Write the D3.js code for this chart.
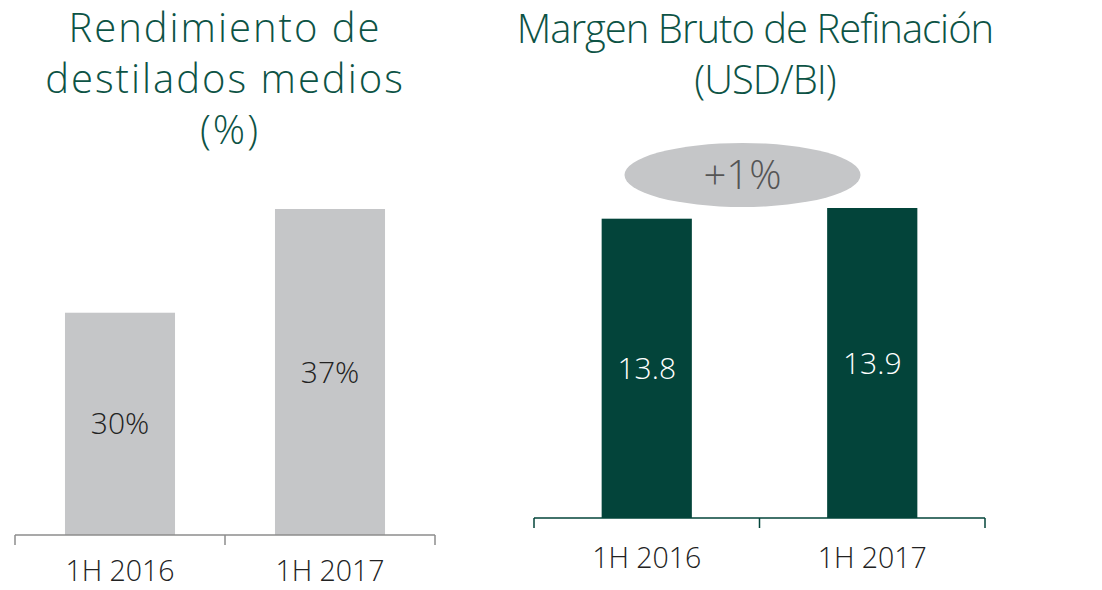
<!DOCTYPE html>
<html><head><meta charset="utf-8">
<script src="https://cdn.jsdelivr.net/npm/d3@7"></script>
<style>
html,body{margin:0;padding:0;background:#fff;}
svg{display:block;font-family:"Open Sans",sans-serif;font-weight:300;}
</style></head>
<body><svg id="c" width="1102" height="590"></svg>
<script>
const categories = ["1H 2016", "1H 2017"];
const yieldValues = [30, 37];
const yieldLabels = ["30%", "37%"];
const marginValues = [13.8, 13.9];
const marginLabels = ["13.8", "13.9"];
const leftTitle = ["Rendimiento de", "destilados medios", "(%)"];
const rightTitle = ["Margen Bruto de Refinación", "(USD/BI)"];
const changeLabel = "+1%";

const svg = d3.select("#c");
const green = "#0d5345";
const darkGreen = "#03443a";
const grey = "#c5c6c8";

function panel(o) {
  const g = svg.append("g");
  const x = d3.scaleBand().domain(categories).range(o.xr)
    .paddingInner(o.pi).paddingOuter(o.pi / 2);
  const y = d3.scaleLinear().domain(o.yd).range(o.yr);
  // title
  const t = g.append("text").attr("text-anchor", "middle")
    .attr("fill", green).attr("font-size", 40).attr("letter-spacing", o.ls);
  o.title.forEach((s, i) => t.append("tspan").attr("x", o.tx[i]).attr("y", o.ty + i * 51).text(s));
  // bars
  g.selectAll("rect.bar").data(o.values).join("rect")
    .attr("x", (d, i) => x(categories[i])).attr("width", x.bandwidth())
    .attr("y", d => y(d)).attr("height", d => o.yr[0] - y(d))
    .attr("fill", o.barColor);
  g.selectAll("text.val").data(o.values).join("text")
    .attr("x", (d, i) => x(categories[i]) + x.bandwidth() / 2)
    .attr("y", d => (y(d) + o.yr[0]) / 2)
    .attr("dy", "0.35em").attr("text-anchor", "middle")
    .attr("font-size", 30).attr("fill", o.valColor)
    .text((d, i) => o.labels[i]);
  // axis
  const base = o.yr[0];
  const step = x.step();
  const ticks = [o.xr[0]].concat(categories.map(c => x(c) + x.bandwidth() / 2 + step / 2));
  g.append("line").attr("x1", o.xr[0]).attr("x2", o.xr[1]).attr("y1", base).attr("y2", base)
    .attr("stroke", o.axisColor).attr("stroke-width", 1.5);
  g.selectAll("line.tk").data(ticks).join("line")
    .attr("x1", d => d).attr("x2", d => d).attr("y1", base).attr("y2", base + 10)
    .attr("stroke", o.axisColor).attr("stroke-width", 1.5);
  g.selectAll("text.cat").data(categories).join("text")
    .attr("x", d => x(d) + x.bandwidth() / 2).attr("y", o.labelY)
    .attr("text-anchor", "middle").attr("font-size", 28.5).attr("fill", "#222")
    .text(d => d);
  return {x, y};
}

panel({xr: [15, 435], pi: 0.476, yd: [15, 37], yr: [535, 209], values: yieldValues,
  labels: yieldLabels, barColor: grey, valColor: "#222", axisColor: "#8c8c8c",
  title: leftTitle, tx: [225, 225, 230], ty: 42, ls: 2, labelY: 581});

const r = panel({xr: [534, 985], pi: 0.6, yd: [11, 13.9], yr: [518, 208], values: marginValues,
  labels: marginLabels, barColor: darkGreen, valColor: "#fff", axisColor: darkGreen,
  title: rightTitle, tx: [755, 765], ty: 43, ls: -1, labelY: 568});

// change bubble
const cx = (r.x(categories[0]) + r.x(categories[1]) + r.x.bandwidth()) / 2 - 17;
svg.append("ellipse").attr("cx", cx).attr("cy", 175).attr("rx", 118).attr("ry", 32).attr("fill", grey);
svg.append("text").attr("x", cx).attr("y", 175).attr("dy", "0.35em").attr("text-anchor", "middle")
  .attr("font-size", 40).attr("fill", "#555").text(changeLabel);
</script></body></html>
